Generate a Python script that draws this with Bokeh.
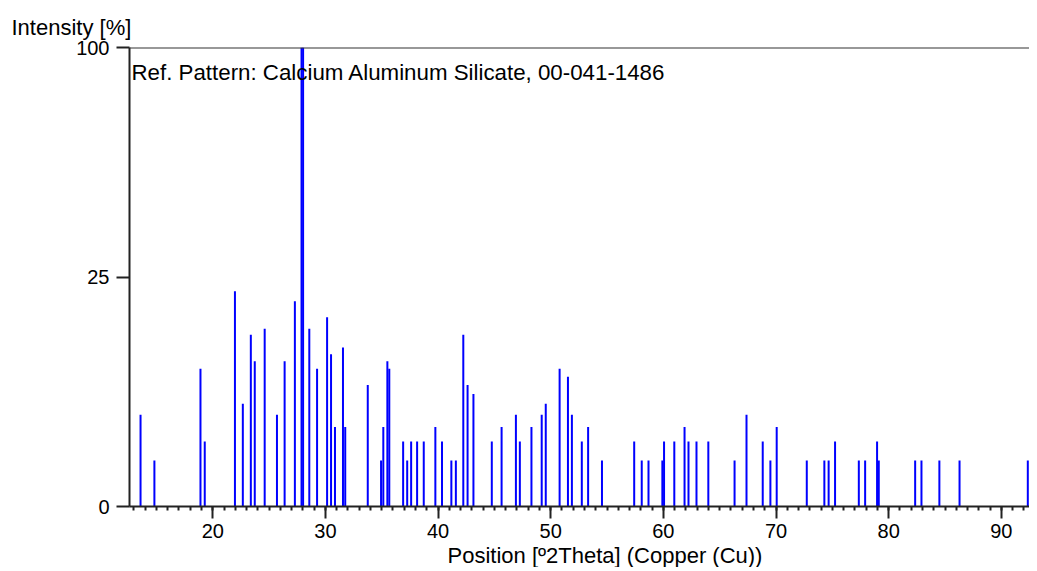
import math
from bokeh.plotting import figure
from bokeh.models import (ColumnDataSource, Range1d, SingleIntervalTicker, FixedTicker,
                          Label, Span, CustomJSTickFormatter, Title)
from bokeh.embed import file_html
from bokeh.resources import INLINE

# ---- data ----
title_text = "Ref. Pattern: Calcium Aluminum Silicate, 00-041-1486"
y_title = "Intensity [%]"
x_title = "Position [\u00ba2Theta] (Copper (Cu))"

positions = [13.59, 14.82, 18.91, 19.29, 21.97, 22.67, 23.38, 23.73, 24.61, 25.70,
             26.38, 27.29, 27.88, 28.02, 28.57, 29.26, 30.15, 30.50, 30.85, 31.56,
             31.76, 33.76, 34.94, 35.14, 35.50, 35.67, 36.90, 37.26, 37.61, 38.14,
             38.73, 39.76, 40.35, 41.18, 41.58, 42.24, 42.62, 43.14, 44.77, 45.64,
             46.91, 47.26, 48.29, 49.20, 49.56, 50.79, 51.53, 51.88, 52.76, 53.32,
             54.55, 57.41, 58.08, 58.68, 59.91, 60.06, 60.97, 61.88, 62.23, 62.94,
             63.99, 66.32, 67.38, 68.82, 69.50, 70.06, 72.73, 74.29, 74.67, 75.24,
             77.35, 77.91, 78.97, 79.12, 82.35, 82.91, 84.50, 86.29, 92.35]
intensities = [4, 1, 9, 2, 22, 5, 14, 10, 15, 4,
               10, 20, 100, 100, 15, 9, 17, 11, 3, 12,
               3, 7, 1, 3, 10, 9, 2, 1, 2, 2,
               2, 3, 2, 1, 1, 14, 7, 6, 2, 3,
               4, 2, 3, 4, 5, 9, 8, 4, 2, 3,
               1, 2, 1, 1, 1, 2, 2, 3, 2, 2,
               2, 1, 4, 2, 1, 3, 1, 1, 1, 2,
               1, 1, 2, 1, 1, 1, 1, 1, 1]
y_tick_labels = [0, 25, 100]
x_tick_interval = 10
x_start, x_end = 12.61, 92.5

# square-root intensity scale
src = ColumnDataSource(dict(
    x=positions,
    y0=[0.0] * len(positions),
    y1=[math.sqrt(v) for v in intensities],
))

FONT = "Liberation Sans"
y_top = math.sqrt(max(y_tick_labels))

p = figure(width=1029, height=567, output_backend="svg", toolbar_location=None,
           x_range=Range1d(x_start, x_end),
           y_range=Range1d(0, y_top),
           min_border_left=129, min_border_right=0, min_border_top=47,
           min_border_bottom=61)
p.outline_line_color = None
p.xgrid.visible = False
p.ygrid.visible = False
p.background_fill_color = "white"
p.border_fill_color = "white"

p.segment(x0="x", y0="y0", x1="x", y1="y1", source=src,
          line_color="#0000FF", line_width=2, line_cap="butt")

# x axis
xa = p.xaxis[0]
xa.ticker = SingleIntervalTicker(interval=x_tick_interval, num_minor_ticks=10)
xa.axis_line_color = "#222222"
xa.axis_line_width = 2
xa.major_tick_line_color = "#222222"
xa.major_tick_line_width = 2
xa.major_tick_out = 12
xa.major_tick_in = 0
xa.minor_tick_line_color = "#222222"
xa.minor_tick_line_width = 2
xa.minor_tick_out = 4
xa.minor_tick_in = 0
xa.major_label_standoff = 5
xa.major_label_text_font = FONT
xa.major_label_text_font_size = "20px"
xa.major_label_text_color = "black"

# y axis (square-root scale)
ya = p.yaxis[0]
ya.ticker = FixedTicker(ticks=[math.sqrt(v) for v in y_tick_labels], minor_ticks=[])
ya.formatter = CustomJSTickFormatter(code="return String(Math.round(tick*tick));")
ya.axis_line_color = "#222222"
ya.axis_line_width = 2
ya.major_tick_line_color = "#222222"
ya.major_tick_line_width = 2
ya.major_tick_out = 13
ya.major_tick_in = 0
ya.minor_tick_line_color = None
ya.major_label_standoff = 7
ya.major_label_text_font = FONT
ya.major_label_text_font_size = "20px"
ya.major_label_text_color = "black"

# top border line
p.add_layout(Span(location=y_top, dimension="width",
                  line_color="#333333", line_width=2))

# pattern name inside the frame
p.add_layout(Label(x=x_start, y=y_top, text=title_text,
                   x_offset=2, y_offset=-25, text_baseline="alphabetic",
                   text_font=FONT, text_font_size="22.3px", text_color="black"))

# axis titles as side-panel titles (not clipped by the frame)
p.add_layout(Title(text=y_title, align="left", offset=-118, standoff=16,
                   text_font=FONT, text_font_size="22px", text_font_style="normal",
                   text_color="black"), "above")
p.add_layout(Title(text=x_title, align="left", offset=318, standoff=0,
                   text_font=FONT, text_font_size="22px", text_font_style="normal",
                   text_color="black"), "below")

open("out.html", "w").write(file_html(p, INLINE))
